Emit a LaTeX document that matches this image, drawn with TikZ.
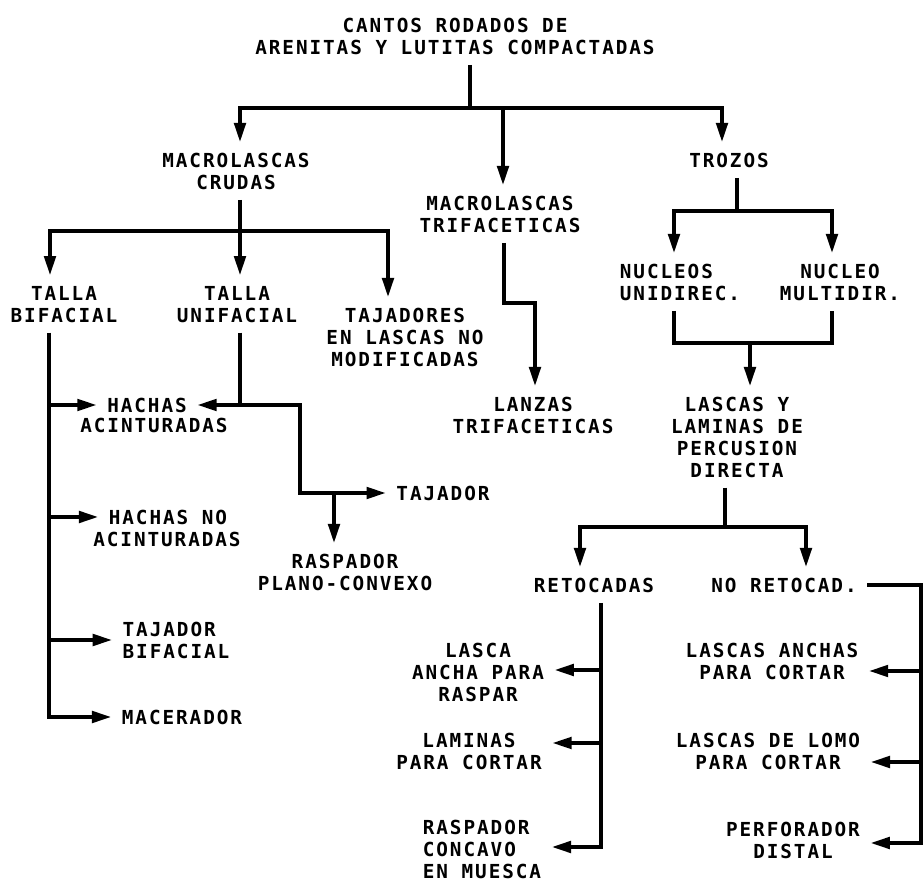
\documentclass[tikz,border=0pt]{standalone}
\usepackage{fontspec}
\newfontfamily\letrero{DejaVu Sans Mono}[LetterSpace=10, BoldFont={DejaVu Sans Mono Bold}]
\usetikzlibrary{arrows.meta}
\tikzset{
  rotulo/.style={font={\letrero\bfseries\fontsize{11}{12.5}\selectfont}, align=center, inner sep=5pt, text depth=0pt},
  flecha/.style={-{Triangle[length=11pt,width=6.5pt]}},
  dflecha/.style={{Triangle[length=11pt,width=6.5pt]}-{Triangle[length=11pt,width=6.5pt]}}
}
\begin{document}
\begin{tikzpicture}[x=0.02cm, y=-0.02cm, line width=2.1pt]
    \useasboundingbox (0,0) rectangle (924,881);

    % Cantos rodados
    \node[rotulo] (titulo) at (455,36) {CANTOS RODADOS DE\\ARENITAS Y LUTITAS COMPACTADAS};
    \node[rotulo] (crudas) at (236,171) {MACROLASCAS\\CRUDAS};
    \node[rotulo] (trifac) at (500,214) {MACROLASCAS\\TRIFACETICAS};
    \node[rotulo] (trozos) at (729,160) {TROZOS};
    \coordinate (r0) at (470,108);
    \coordinate (b1l) at (240,108);
    \coordinate (b1m) at (503,108);
    \coordinate (b1r) at (722,108);
    \draw (titulo.south -| r0) -- (r0);
    \draw[dflecha] (b1l |- crudas.north) -- (b1l) -- (b1r) -- (b1r |- trozos.north);
    \draw[flecha] (b1m) -- (b1m |- trifac.north);

    % Macrolascas crudas
    \node[rotulo] (bifacial) at (64,304) {TALLA\\BIFACIAL};
    \node[rotulo] (unifacial) at (237,304) {TALLA\\UNIFACIAL};
    \node[rotulo] (tajadores) at (405,337) {TAJADORES\\EN LASCAS NO\\MODIFICADAS};
    \coordinate (b2l) at (50,231);
    \coordinate (b2m) at (240,231);
    \coordinate (b2r) at (388,231);
    \draw (crudas.south -| b2m) -- (b2m);
    \draw[dflecha] (b2l |- bifacial.north) -- (b2l) -- (b2r) -- (b2r |- tajadores.north);
    \draw[flecha] (b2m) -- (b2m |- unifacial.north);

    % Talla bifacial
    \node[rotulo] (hachas) at (147,405) {HACHAS};
    \node[rotulo] (hachas2) at (154,425) {ACINTURADAS};
    \node[rotulo] (hachasno) at (168,517) {HACHAS NO};
    \node[rotulo] (hachasno2) at (167,539) {ACINTURADAS};
    \node[rotulo, align=left] (tajbif) at (176,640) {TAJADOR\\BIFACIAL};
    \node[rotulo] (macerador) at (182,717) {MACERADOR};
    \coordinate (v1) at (49,330);
    \draw[flecha] (bifacial.south -| v1) |- (macerador.west);
    \draw[flecha] (hachas.west -| v1) -- (hachas.west);
    \draw[flecha] (hachasno.west -| v1) -- (hachasno.west);
    \draw[flecha] (tajbif.west -| v1) -- (tajbif.west);

    % Talla unifacial
    \node[rotulo] (tajador) at (443,493) {TAJADOR};
    \node[rotulo] (raspadorpc) at (345,572) {RASPADOR\\PLANO-CONVEXO};
    \coordinate (v2) at (300,493);
    \coordinate (v3) at (334,493);
    \draw[flecha] (unifacial.south -| b2m) |- (hachas.east);
    \draw[flecha] (hachas.east -| b2m) -| (v2) -- (tajador.west);
    \draw[flecha] (v3) -- (v3 |- raspadorpc.north);

    % Macrolascas trifaceticas
    \node[rotulo] (lanzas) at (533,415) {LANZAS\\TRIFACETICAS};
    \coordinate (v4) at (504,303);
    \coordinate (v5) at (535,303);
    \draw[flecha] (trifac.south -| v4) -- (v4) -- (v5) -- (v5 |- lanzas.north);

    % Trozos
    \node[rotulo, align=left] (nucu) at (680,282) {NUCLEOS\\UNIDIREC.};
    \node[rotulo] (nucm) at (840,282) {NUCLEO\\MULTIDIR.};
    \node[rotulo] (percusion) at (737,437) {LASCAS Y\\LAMINAS DE\\PERCUSION\\DIRECTA};
    \coordinate (b3l) at (674,211);
    \coordinate (b3m) at (737,211);
    \coordinate (b3r) at (832,211);
    \draw (trozos.south -| b3m) -- (b3m);
    \draw[dflecha] (b3l |- nucu.north) -- (b3l) -- (b3r) -- (b3r |- nucm.north);
    \coordinate (b4l) at (674,343);
    \coordinate (b4m) at (750,343);
    \coordinate (b4r) at (832,343);
    \draw (nucu.south -| b4l) -- (b4l) -- (b4r) -- (nucm.south -| b4r);
    \draw[flecha] (b4m) -- (b4m |- percusion.north);

    % Lascas y laminas
    \node[rotulo] (retocadas) at (594,585) {RETOCADAS};
    \node[rotulo] (noretocad) at (784,585) {NO RETOCAD.};
    \coordinate (b5l) at (580,527);
    \coordinate (b5m) at (725,527);
    \coordinate (b5r) at (806,527);
    \draw (percusion.south -| b5m) -- (b5m);
    \draw[dflecha] (b5l |- retocadas.north) -- (b5l) -- (b5r) -- (b5r |- noretocad.north);

    % Retocadas
    \node[rotulo] (lascar) at (478,672) {LASCA\\ANCHA PARA\\RASPAR};
    \node[rotulo] (laminas) at (469,751) {LAMINAS\\PARA CORTAR};
    \node[rotulo, align=left] (raspadorcm) at (482,849) {RASPADOR\\CONCAVO\\EN MUESCA};
    \coordinate (f1) at (601,670);
    \coordinate (f2) at (601,743);
    \coordinate (f3) at (601,847);
    \draw[flecha] (retocadas.south -| f3) -- (f3) -- (raspadorcm.east |- f3);
    \draw[flecha] (f1) -- (lascar.east |- f1);
    \draw[flecha] (f2) -- (laminas.east |- f2);

    % No retocadas
    \node[rotulo] (anchas) at (772,661) {LASCAS ANCHAS\\PARA CORTAR};
    \node[rotulo] (lomo) at (768,751) {LASCAS DE LOMO\\PARA CORTAR};
    \node[rotulo] (perforador) at (793,840) {PERFORADOR\\DISTAL};
    \coordinate (g1) at (921,671);
    \coordinate (g2) at (921,762);
    \coordinate (g3) at (921,843);
    \draw[flecha] (noretocad.east) -| (g3) -- (perforador.east |- g3);
    \draw[flecha] (g1) -- (anchas.east |- g1);
    \draw[flecha] (g2) -- (lomo.east |- g2);
\end{tikzpicture}
\end{document}
